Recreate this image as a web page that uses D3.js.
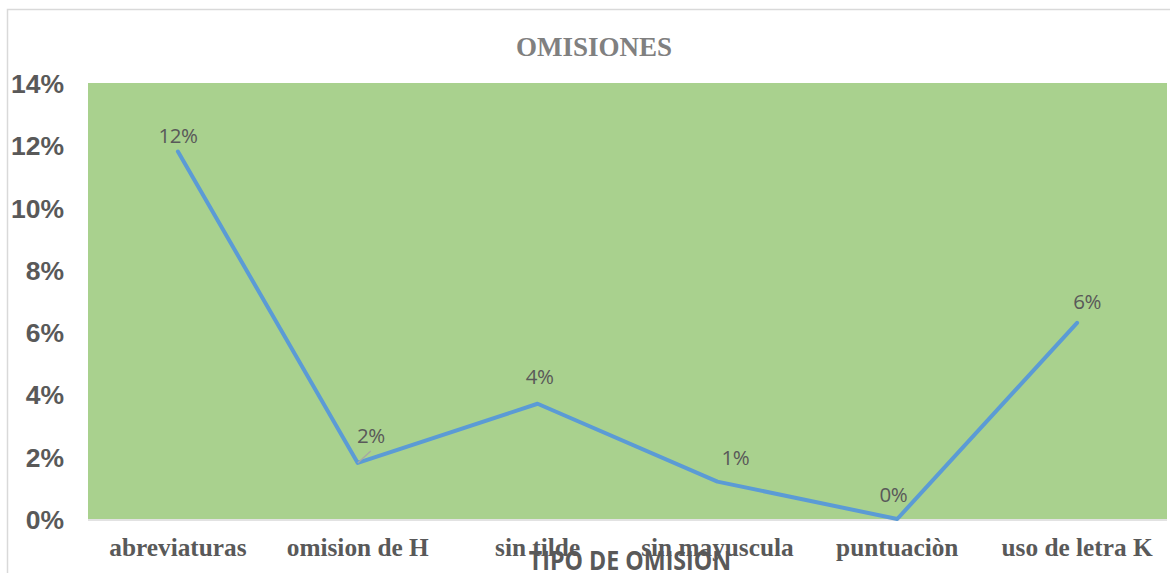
<!DOCTYPE html>
<html><head><meta charset="utf-8">
<script src="https://cdn.jsdelivr.net/npm/d3@7/dist/d3.min.js"></script>
<style>body{margin:0;background:#fff;overflow:hidden}</style>
</head><body>
<svg id="c" width="1170" height="573"></svg>
<script>
const categories = ["abreviaturas","omision de H","sin tilde","sin mayuscula","puntuaciòn","uso de letra K"];
const values = [0.118, 0.018, 0.037, 0.012, 0.0, 0.063];
const labels = ["12%","2%","4%","1%","0%","6%"];
const yTicks = [0,0.02,0.04,0.06,0.08,0.10,0.12,0.14];
const chartTitle = "OMISIONES";
const xTitle = "TIPO DE OMISION";

const svg = d3.select("#c");
const plot={l:88,r:1167,t:83,b:519};

svg.append("rect").attr("x",7.5).attr("y",9.5).attr("width",1180).attr("height",600)
  .attr("fill","#fff").attr("stroke","#d9d9d9").attr("stroke-width",1.5);

const x=d3.scaleBand().domain(categories).range([plot.l,plot.r]);
const y=d3.scaleLinear().domain([0,0.14]).range([plot.b,plot.t]);

svg.append("rect").attr("x",plot.l).attr("y",plot.t).attr("width",plot.r-plot.l).attr("height",plot.b-plot.t).attr("fill","#a9d18e");
svg.append("line").attr("x1",plot.l).attr("x2",plot.r).attr("y1",plot.b+1).attr("y2",plot.b+1).attr("stroke","#d9d9d9").attr("stroke-width",1.5);

const ya=svg.append("g").attr("transform",`translate(${plot.l},0)`)
  .call(d3.axisLeft(y).tickValues(yTicks).tickFormat(d3.format(".0%")).tickSize(0).tickPadding(24));
ya.select(".domain").remove();
ya.selectAll("text").attr("font-family","Liberation Sans, Arial, sans-serif").attr("font-weight","bold")
  .attr("font-size","26.5px").attr("fill","#595959").attr("dy","0.36em");

const xa=svg.append("g").attr("transform",`translate(0,${plot.b})`)
  .call(d3.axisBottom(x).tickSize(0).tickPadding(19));
xa.select(".domain").remove();
xa.selectAll("text").attr("font-family","Liberation Serif, Times New Roman, serif").attr("font-weight","bold")
  .attr("font-size","25.3px").attr("fill","#595959");

const cx=d=>x(d)+x.bandwidth()/2;
const line=d3.line().x((d,i)=>cx(categories[i])).y(d=>y(d));
svg.append("path").datum(values).attr("d",line).attr("fill","none")
  .attr("stroke","#5b9bd5").attr("stroke-width",4).attr("stroke-linejoin","round").attr("stroke-linecap","round");

svg.append("line").attr("x1",cx(categories[1])).attr("y1",y(values[1]))
  .attr("x2",cx(categories[1])+13).attr("y2",y(values[1])-12).attr("stroke","#a6a6a6").attr("stroke-width",1.2);

const lblOff=[[0,-9],[13,-20],[2,-20],[18,-17],[-4,-17],[10,-14]];
svg.append("g").selectAll("text").data(values).join("text")
  .attr("x",(d,i)=>cx(categories[i])+lblOff[i][0])
  .attr("y",(d,i)=>y(d)+lblOff[i][1])
  .attr("text-anchor","middle")
  .attr("font-family","Open Sans, Liberation Sans, sans-serif").attr("font-size","20.5px").attr("fill","#595959")
  .attr("letter-spacing","-0.5")
  .text((d,i)=>labels[i]);

svg.append("text").attr("x",594).attr("y",56).attr("text-anchor","middle")
  .attr("font-family","Liberation Serif, Times New Roman, serif").attr("font-weight","bold")
  .attr("font-size","27px").attr("fill","#808080").text(chartTitle);
svg.append("text").attr("transform","translate(630,570) scale(0.86,1)").attr("text-anchor","middle")
  .attr("font-family","Open Sans, sans-serif").attr("font-weight","bold")
  .attr("font-size","27px").attr("fill","#595959").text(xTitle);
</script>
</body></html>
